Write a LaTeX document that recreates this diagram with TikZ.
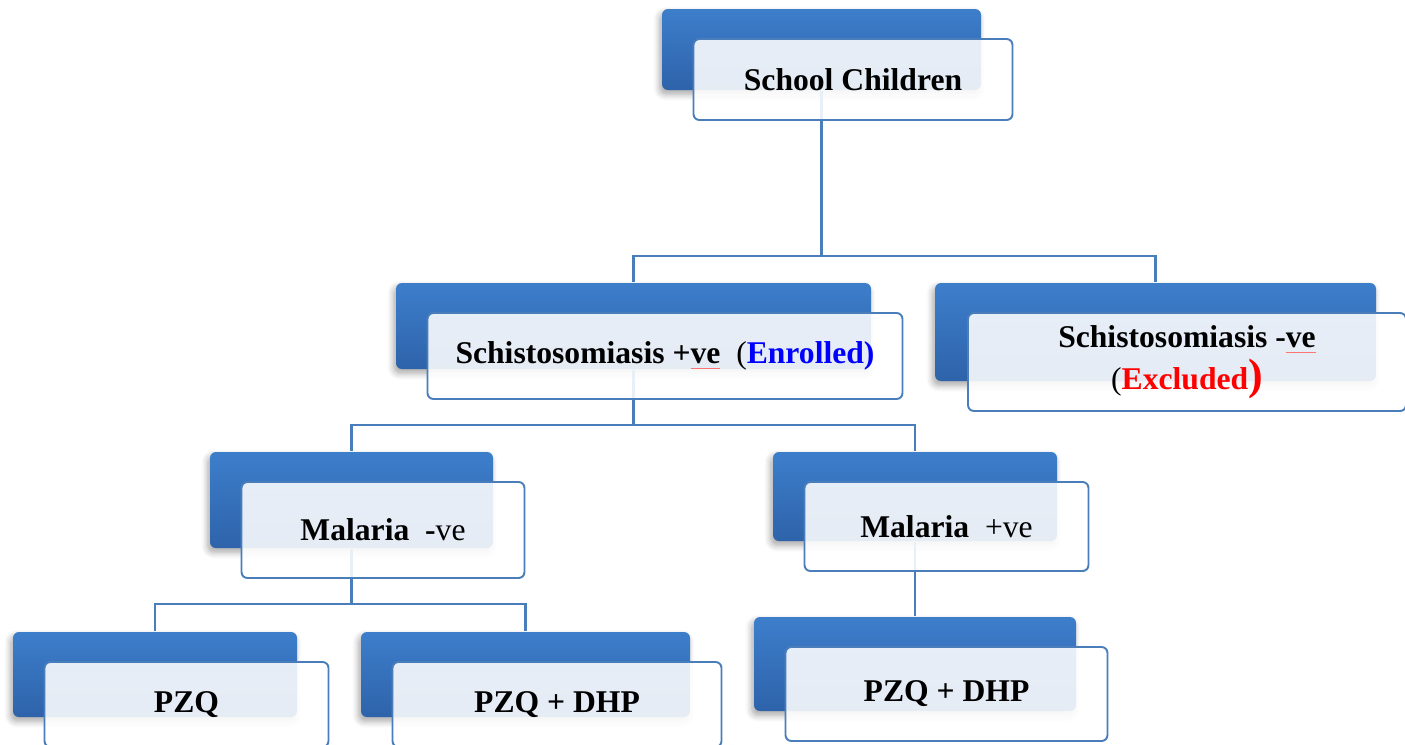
\documentclass[tikz,border=0pt]{standalone}
\usepackage{fontspec}
\setmainfont{Liberation Serif}
\usetikzlibrary{shadows, shadows.blur}
\definecolor{boxtop}{RGB}{61,126,203}
\definecolor{boxbot}{RGB}{46,99,170}
\definecolor{edge}{RGB}{74,126,187}
\tikzset{
    backbox/.style={rectangle, rounded corners=1.7pt, top color=boxtop, bottom color=boxbot,
        blur shadow={shadow xshift=-0.6pt, shadow yshift=-1.2pt, shadow opacity=35, shadow blur steps=6}},
    frontbox/.style={rectangle, rounded corners=1.7pt, draw=edge, line width=0.55pt,
        fill=white, fill opacity=0.88, text opacity=1, xshift=3.15mm, yshift=-3mm,
        inner sep=0pt, align=center, font=\fontsize{9}{11.9}\selectfont\bfseries},
    link/.style={draw=edge, line width=0.6pt},
}
\newcommand\spell[1]{{\color{red!55}\underline{\textcolor{black}{#1}}}}

\begin{document}
\begin{tikzpicture}
    \useasboundingbox (0,0) rectangle (14.05,-7.44);
    \clip (0,0) rectangle (14.05,-7.44);

    %blue boxes behind
    \foreach \n/\x/\y/\w/\h in {sc/8.215/-0.495/3.19/0.81, spos/6.335/-3.26/4.75/0.86,
        sneg/11.555/-3.32/4.41/0.98, mneg/3.515/-5.00/2.83/0.96, mpos/9.15/-4.965/2.84/0.89,
        pzq/1.55/-6.745/2.84/0.85, pzqdhp/5.255/-6.745/3.29/0.85, pzqdhpb/9.15/-6.64/3.22/0.94}
    {
        \node[backbox, minimum width=\w cm, minimum height=\h cm] (\n) at (\x,\y) {};
    }

    %tree lines
    \coordinate (bus1) at (0,-2.56);
    \coordinate (bus2) at (0,-4.25);
    \coordinate (bus3) at (0,-6.04);
    \draw[link] (sc.south) -- (sc.south |- bus1);
    \draw[link] (spos.north) |- (bus1 -| sneg.north) -- (sneg.north);
    \draw[link] (spos.south) -- (spos.south |- bus2);
    \draw[link] (mneg.north) |- (bus2 -| mpos.north) -- (mpos.north);
    \draw[link] (mneg.south) -- (mneg.south |- bus3);
    \draw[link] (pzq.north) |- (bus3 -| pzqdhp.north) -- (pzqdhp.north);
    \draw[link] (mpos.south) -- (pzqdhpb.north);

    %white boxes in front
    \node[frontbox, minimum width=3.19cm, minimum height=0.81cm] (sc-f) at (sc) {School Children};
    \node[frontbox, minimum width=4.75cm, minimum height=0.86cm] (spos-f) at (spos)
        {Schistosomiasis +\spell{ve}\ \ {\mdseries(}\textcolor{blue}{Enrolled)}};
    \node[frontbox, minimum width=4.38cm, minimum height=0.98cm] (sneg-f) at (sneg)
        {Schistosomiasis -\spell{ve}\\{\mdseries(}\textcolor{red}{Excluded{\fontsize{12.5}{12}\selectfont)}}};
    \node[frontbox, minimum width=2.83cm, minimum height=0.96cm] (mneg-f) at (mneg) {Malaria\ \ -{\mdseries ve}};
    \node[frontbox, minimum width=2.84cm, minimum height=0.89cm] (mpos-f) at (mpos) {Malaria\ \ {\mdseries +ve}};
    \node[frontbox, minimum width=2.84cm, minimum height=0.85cm] (pzq-f) at (pzq) {PZQ};
    \node[frontbox, minimum width=3.29cm, minimum height=0.85cm] (pzqdhp-f) at (pzqdhp) {PZQ + DHP};
    \node[frontbox, minimum width=3.22cm, minimum height=0.94cm] (pzqdhpb-f) at (pzqdhpb) {PZQ + DHP};
\end{tikzpicture}
\end{document}
